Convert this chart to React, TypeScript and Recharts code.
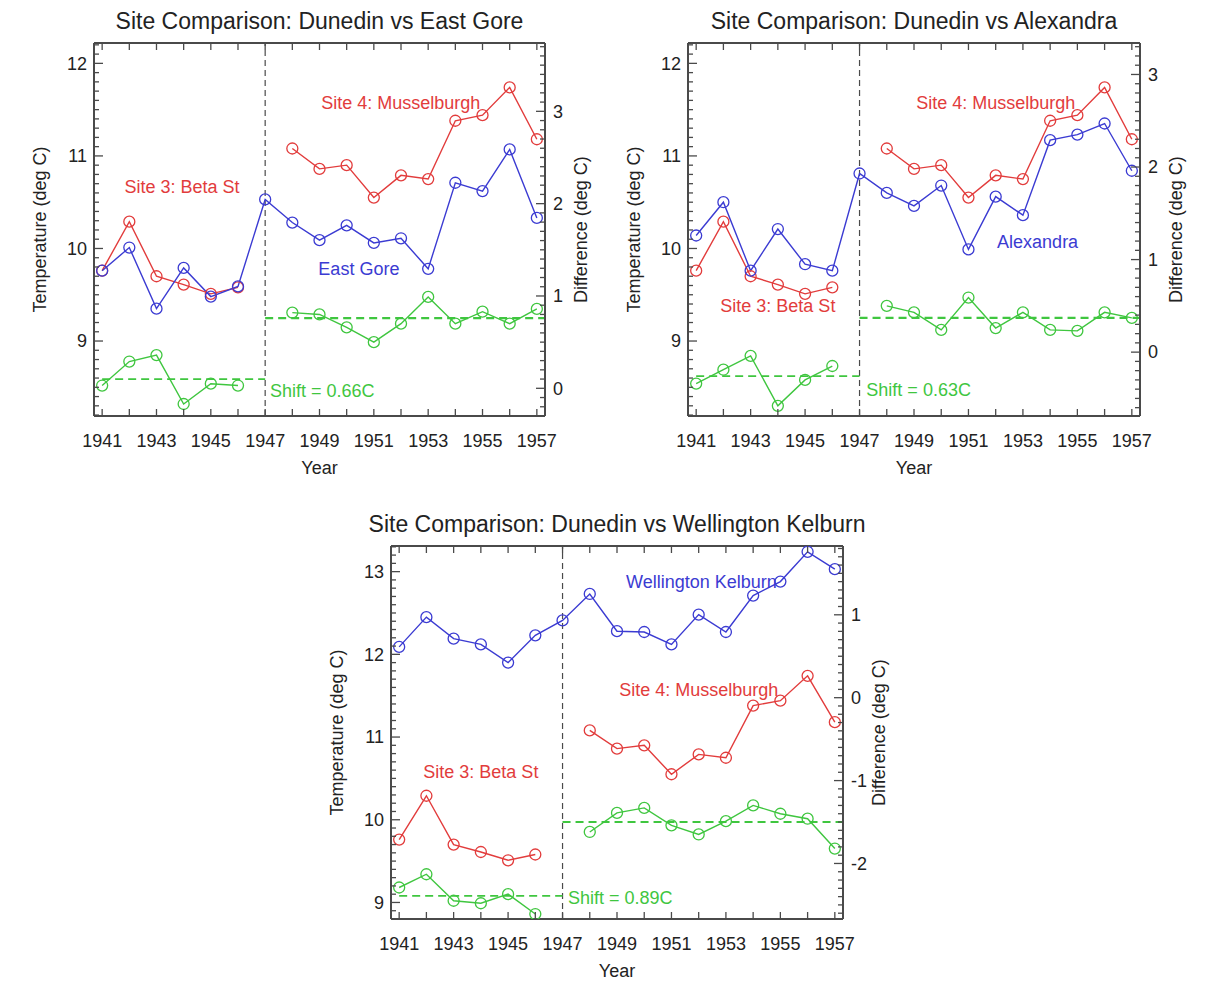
import React from 'react';
import { LineChart, Line, XAxis, YAxis, ReferenceLine, ReferenceDot } from 'recharts';

// years on the x axis
const years = [1941, 1942, 1943, 1944, 1945, 1946, 1947, 1948, 1949, 1950, 1951, 1952, 1953, 1954, 1955, 1956, 1957];
const earlyYears = [1941, 1942, 1943, 1944, 1945, 1946];
const lateYears = [1948, 1949, 1950, 1951, 1952, 1953, 1954, 1955, 1956, 1957];
const yearLabels = [1941, 1943, 1945, 1947, 1949, 1951, 1953, 1955, 1957];

// Dunedin sites (same in every panel)
const dunedinSite3 = [9.76, 10.29, 9.70, 9.61, 9.51, 9.58];
const dunedinSite4 = [11.08, 10.86, 10.90, 10.55, 10.79, 10.75, 11.38, 11.44, 11.74, 11.18];

// comparison stations
const eastGore = [9.76, 10.01, 9.35, 9.79, 9.48, 9.59, 10.53, 10.28, 10.09, 10.25, 10.06, 10.11, 9.78, 10.71, 10.62, 11.07, 10.33];
const eastGoreDiffEarly = [0.03, 0.29, 0.36, -0.17, 0.05, 0.03];
const eastGoreDiffLate = [0.82, 0.80, 0.66, 0.50, 0.70, 0.99, 0.70, 0.83, 0.70, 0.86];
const eastGoreMeans = [0.10, 0.76];

const alexandra = [10.14, 10.50, 9.76, 10.21, 9.83, 9.76, 10.81, 10.60, 10.46, 10.68, 9.99, 10.56, 10.36, 11.17, 11.23, 11.35, 10.84];
const alexandraDiffEarly = [-0.34, -0.19, -0.04, -0.58, -0.30, -0.15];
const alexandraDiffLate = [0.50, 0.43, 0.24, 0.59, 0.26, 0.43, 0.24, 0.23, 0.43, 0.37];
const alexandraMeans = [-0.26, 0.37];

const kelburn = [12.09, 12.45, 12.19, 12.12, 11.90, 12.23, 12.41, 12.73, 12.28, 12.27, 12.12, 12.48, 12.27, 12.71, 12.88, 13.24, 13.03];
const kelburnDiffEarly = [-2.29, -2.13, -2.45, -2.48, -2.37, -2.61];
const kelburnDiffLate = [-1.62, -1.39, -1.33, -1.54, -1.65, -1.49, -1.30, -1.40, -1.46, -1.82];
const kelburnMeans = [-2.39, -1.50];

const RED = '#e23c3c';
const BLUE = '#3b3bd2';
const GREEN = '#3fc63f';
const FRAME = '#4a4a4a';
const INK = '#222';
const FONT = '"Liberation Sans", Arial, Helvetica, sans-serif';
const X_DOMAIN: [number, number] = [1940.7, 1957.3];

function buildRows(comp: number[], diffEarly: number[], diffLate: number[]) {
  return years.map((year, i) => {
    const e = earlyYears.indexOf(year);
    const l = lateYears.indexOf(year);
    return {
      year,
      comp: comp[i],
      s3: e >= 0 ? dunedinSite3[e] : null,
      s4: l >= 0 ? dunedinSite4[l] : null,
      dEarly: e >= 0 ? diffEarly[e] : null,
      dLate: l >= 0 ? diffLate[l] : null,
    };
  });
}

// minor ticks every 0.1
function tenths(from: number, to: number) {
  const out: number[] = [];
  for (let k = Math.ceil(from * 10 - 1e-6); k <= Math.floor(to * 10 + 1e-6); k++) out.push(k / 10);
  return out;
}

const isMajor = (v: number) => Math.abs(v - Math.round(v)) < 1e-6;

const LeftTick = (props: any) => {
  const { x, y, payload } = props;
  const major = isMajor(payload.value);
  return (
    <g>
      <line x1={x} x2={x + (major ? 9 : 5)} y1={y} y2={y} stroke={FRAME} strokeWidth={1.3} />
      {major && (
        <text x={x - 7} y={y} dy="0.35em" textAnchor="end" fontSize={18} fill={INK} fontFamily={FONT}>
          {Math.round(payload.value)}
        </text>
      )}
    </g>
  );
};

const RightTick = (props: any) => {
  const { x, y, payload } = props;
  const major = isMajor(payload.value);
  return (
    <g>
      <line x1={x} x2={x - (major ? 9 : 5)} y1={y} y2={y} stroke={FRAME} strokeWidth={1.3} />
      {major && (
        <text x={x + 8} y={y} dy="0.35em" textAnchor="start" fontSize={18} fill={INK} fontFamily={FONT}>
          {Math.round(payload.value)}
        </text>
      )}
    </g>
  );
};

const BottomTick = (props: any) => {
  const { x, y, payload } = props;
  return (
    <g>
      <line x1={x} x2={x} y1={y} y2={y - 7} stroke={FRAME} strokeWidth={1.3} />
      {yearLabels.includes(payload.value) && (
        <text x={x} y={y + 31} textAnchor="middle" fontSize={18} fill={INK} fontFamily={FONT}>
          {payload.value}
        </text>
      )}
    </g>
  );
};

const TopTick = (props: any) => {
  const { x, y } = props;
  return <line x1={x} x2={x} y1={y} y2={y + 7} stroke={FRAME} strokeWidth={1.3} />;
};

type Note = [number, number];

interface PanelProps {
  title: string;
  frame: { left: number; top: number; width: number; height: number };
  tempDomain: [number, number];
  diffDomain: [number, number];
  comp: number[];
  diffEarly: number[];
  diffLate: number[];
  means: number[];
  compName: string;
  shift: string;
  notes: { site3: Note; site4: Note; comp: Note; shift: Note };
}

const noteLabel = (value: string, fill: string, position: any = 'center') => ({
  value,
  position,
  offset: 0,
  fill,
  fontSize: 18,
  fontFamily: FONT,
});

const Panel: React.FC<PanelProps> = (p) => {
  const { frame } = p;
  const rows = buildRows(p.comp, p.diffEarly, p.diffLate);
  const dot = (c: string) => ({ r: 5.5, fill: 'none', stroke: c, strokeWidth: 1.3 });
  const line = { stroke: FRAME, strokeWidth: 2 };
  return (
    <div style={{ position: 'absolute', left: frame.left - 70, top: frame.top - 10 }}>
      <LineChart
        width={frame.width + 140}
        height={frame.height + 80}
        data={rows}
        margin={{ top: 9, right: 0, bottom: 0, left: 0 }}
      >
        <XAxis
          dataKey="year"
          type="number"
          domain={X_DOMAIN}
          allowDataOverflow
          ticks={years}
          interval={0}
          height={70}
          tickSize={0}
          tickMargin={0}
          tick={BottomTick}
          axisLine={line}
          tickLine={false}
        />
        {/* top edge of the box: 1px tall so the axis is actually drawn */}
        <XAxis
          xAxisId="top"
          dataKey="year"
          type="number"
          orientation="top"
          domain={X_DOMAIN}
          allowDataOverflow
          ticks={years}
          interval={0}
          height={1}
          tickSize={0}
          tickMargin={0}
          tick={TopTick}
          axisLine={line}
          tickLine={false}
        />
        <YAxis
          yAxisId="left"
          type="number"
          domain={p.tempDomain}
          allowDataOverflow
          ticks={tenths(p.tempDomain[0], p.tempDomain[1])}
          interval={0}
          width={70}
          tickSize={0}
          tickMargin={0}
          tick={LeftTick}
          axisLine={line}
          tickLine={false}
        />
        <YAxis
          yAxisId="right"
          orientation="right"
          type="number"
          domain={p.diffDomain}
          allowDataOverflow
          ticks={tenths(p.diffDomain[0], p.diffDomain[1])}
          interval={0}
          width={70}
          tickSize={0}
          tickMargin={0}
          tick={RightTick}
          axisLine={line}
          tickLine={false}
        />
        <ReferenceLine yAxisId="left" x={1947} stroke={FRAME} strokeWidth={1.2} strokeDasharray="6 4" />
        <ReferenceLine
          yAxisId="right"
          segment={[{ x: 1941, y: p.means[0] }, { x: 1947, y: p.means[0] }]}
          stroke={GREEN}
          strokeWidth={1.8}
          strokeDasharray="8 5"
        />
        <ReferenceLine
          yAxisId="right"
          segment={[{ x: 1947, y: p.means[1] }, { x: X_DOMAIN[1], y: p.means[1] }]}
          stroke={GREEN}
          strokeWidth={2.2}
          strokeDasharray="8 5"
        />
        <Line yAxisId="left" dataKey="s3" stroke={RED} strokeWidth={1.4} dot={dot(RED)} isAnimationActive={false} />
        <Line yAxisId="left" dataKey="s4" stroke={RED} strokeWidth={1.4} dot={dot(RED)} isAnimationActive={false} />
        <Line yAxisId="left" dataKey="comp" stroke={BLUE} strokeWidth={1.4} dot={dot(BLUE)} isAnimationActive={false} />
        <Line yAxisId="right" dataKey="dEarly" stroke={GREEN} strokeWidth={1.4} dot={dot(GREEN)} isAnimationActive={false} />
        <Line yAxisId="right" dataKey="dLate" stroke={GREEN} strokeWidth={1.4} dot={dot(GREEN)} isAnimationActive={false} />
        <ReferenceDot yAxisId="left" x={p.notes.site3[0]} y={p.notes.site3[1]} r={0} fill="none" stroke="none" label={noteLabel('Site 3: Beta St', RED)} />
        <ReferenceDot yAxisId="left" x={p.notes.site4[0]} y={p.notes.site4[1]} r={0} fill="none" stroke="none" label={noteLabel('Site 4: Musselburgh', RED)} />
        <ReferenceDot yAxisId="left" x={p.notes.comp[0]} y={p.notes.comp[1]} r={0} fill="none" stroke="none" label={noteLabel(p.compName, BLUE)} />
        <ReferenceDot yAxisId="left" x={p.notes.shift[0]} y={p.notes.shift[1]} r={0} fill="none" stroke="none" label={noteLabel(p.shift, GREEN, 'right')} />
      </LineChart>
    </div>
  );
};

const panels: PanelProps[] = [
  {
    title: 'Site Comparison: Dunedin vs East Gore',
    frame: { left: 94, top: 43, width: 451, height: 373 },
    tempDomain: [8.19, 12.22],
    diffDomain: [-0.3, 3.74],
    comp: eastGore,
    diffEarly: eastGoreDiffEarly,
    diffLate: eastGoreDiffLate,
    means: eastGoreMeans,
    compName: 'East Gore',
    shift: 'Shift = 0.66C',
    notes: { site3: [1943.94, 10.67], site4: [1951.99, 11.58], comp: [1950.45, 9.78], shift: [1947.18, 8.46] },
  },
  {
    title: 'Site Comparison: Dunedin vs Alexandra',
    frame: { left: 688, top: 43, width: 452, height: 373 },
    tempDomain: [8.19, 12.22],
    diffDomain: [-0.69, 3.34],
    comp: alexandra,
    diffEarly: alexandraDiffEarly,
    diffLate: alexandraDiffLate,
    means: alexandraMeans,
    compName: 'Alexandra',
    shift: 'Shift = 0.63C',
    notes: { site3: [1944.0, 9.38], site4: [1952.0, 11.58], comp: [1953.54, 10.07], shift: [1947.25, 8.47] },
  },
  {
    title: 'Site Comparison: Dunedin vs Wellington Kelburn',
    frame: { left: 391, top: 546, width: 452, height: 373 },
    tempDomain: [8.8, 13.31],
    diffDomain: [-2.67, 1.83],
    comp: kelburn,
    diffEarly: kelburnDiffEarly,
    diffLate: kelburnDiffLate,
    means: kelburnMeans,
    compName: 'Wellington Kelburn',
    shift: 'Shift = 0.89C',
    notes: { site3: [1944.0, 10.58], site4: [1952.0, 11.57], comp: [1952.1, 12.88], shift: [1947.2, 9.06] },
  },
];

export default function App() {
  return (
    <div style={{ position: 'absolute', left: 0, top: 0, width: 1211, height: 987, background: '#fff' }}>
      {panels.map((p) => (
        <Panel key={p.title} {...p} />
      ))}
      <svg width={1211} height={987} style={{ position: 'absolute', left: 0, top: 0, pointerEvents: 'none' }}>
        {panels.map((p) => {
          const f = p.frame;
          const cx = f.left + f.width / 2;
          const cy = f.top + f.height / 2;
          return (
            <g key={p.title} fontFamily={FONT} fill={INK}>
              <text x={cx} y={f.top - 14} textAnchor="middle" fontSize={23}>{p.title}</text>
              <text x={cx} y={f.top + f.height + 58} textAnchor="middle" fontSize={18}>Year</text>
              <text
                x={f.left - 54}
                y={cy}
                dy="0.35em"
                textAnchor="middle"
                fontSize={18}
                transform={`rotate(-90 ${f.left - 54} ${cy})`}
              >
                Temperature (deg C)
              </text>
              <text
                x={f.left + f.width + 36}
                y={cy}
                dy="0.35em"
                textAnchor="middle"
                fontSize={18}
                transform={`rotate(-90 ${f.left + f.width + 36} ${cy})`}
              >
                Difference (deg C)
              </text>
            </g>
          );
        })}
      </svg>
    </div>
  );
}
